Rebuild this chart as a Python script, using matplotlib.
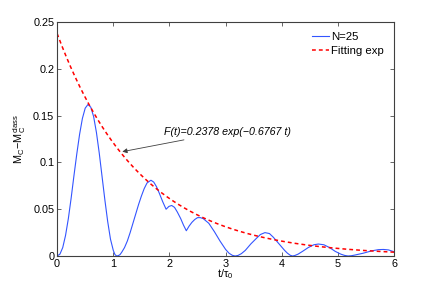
import numpy as np
import matplotlib
matplotlib.use('Agg')
import matplotlib.pyplot as plt

plt.rcParams['font.family'] = ['Liberation Sans', 'DejaVu Sans']
plt.rcParams['mathtext.fontset'] = 'custom'
plt.rcParams['mathtext.rm'] = 'Liberation Sans'
plt.rcParams['mathtext.it'] = 'Liberation Sans:italic'

# N=25 curve
t_data = [0.0, 0.05, 0.1, 0.15, 0.2, 0.25, 0.3, 0.35, 0.4, 0.45, 0.5, 0.55,
          0.6, 0.65, 0.7, 0.75, 0.8, 0.85, 0.9, 0.95, 1.0, 1.03, 1.06,
          1.09, 1.12, 1.15, 1.2, 1.25, 1.3, 1.35, 1.4, 1.45, 1.5, 1.55, 1.6,
          1.67, 1.72, 1.77, 1.82, 1.88, 1.94, 1.99, 2.04, 2.09, 2.14, 2.2,
          2.25, 2.30, 2.35, 2.4, 2.45, 2.5, 2.55, 2.6, 2.7, 2.8, 2.9, 3.0,
          3.06, 3.12, 3.17, 3.22, 3.28, 3.35, 3.45, 3.55, 3.62, 3.7, 3.78,
          3.85, 3.95, 4.05, 4.1, 4.15, 4.19, 4.23, 4.29, 4.37, 4.47, 4.57,
          4.65, 4.75, 4.85, 4.95, 5.05, 5.12, 5.18, 5.24, 5.3, 5.45, 5.6,
          5.72, 5.81, 5.9, 6.0]
m_data = [0.0, 0.002, 0.009, 0.022, 0.040, 0.062, 0.086, 0.109, 0.130, 0.147,
          0.158, 0.162, 0.159, 0.149, 0.132, 0.110, 0.085, 0.060, 0.037,
          0.018, 0.006, 0.0015, 0.0,
          0.0004, 0.0015, 0.004, 0.009, 0.016, 0.025, 0.035, 0.045, 0.055,
          0.064, 0.072, 0.078, 0.081, 0.079, 0.074, 0.067, 0.058, 0.050,
          0.053, 0.054, 0.052, 0.047, 0.040, 0.033, 0.027, 0.032, 0.036,
          0.039, 0.041, 0.041, 0.040, 0.035, 0.026, 0.016, 0.007, 0.003,
          0.0007, 0.0, 0.0006, 0.0025, 0.006, 0.013, 0.019, 0.023, 0.025,
          0.024, 0.020, 0.013, 0.006, 0.003, 0.0008, 0.0, 0.0005, 0.002,
          0.005, 0.009, 0.012, 0.0128, 0.012, 0.009, 0.005, 0.002, 0.0006,
          0.0, 0.0003, 0.001, 0.003, 0.0055, 0.0068, 0.007, 0.0065, 0.0045]

# fitted exponential F(t) = A exp(-k t), parameters as printed in the chart
fit_A = 0.2378
fit_k = 0.6767

t_fit = np.linspace(0, 6, 300)
f_fit = fit_A * np.exp(-fit_k * t_fit)

fig = plt.figure(figsize=(4.36, 2.87), dpi=100)
ax = fig.add_axes([0.131, 0.108, 0.773, 0.815])

ax.plot(t_data, m_data, '-', color='#3355ff', linewidth=0.8, label='N=25')
ax.plot(t_fit, f_fit, '--', color='red', linewidth=1.1, dashes=(2.5, 2.0),
        label='Fitting exp')

ax.annotate('F(t)=0.2378 exp(\u22120.6767 t)', xy=(1.16, 0.1115),
            xytext=(1.9, 0.133), fontsize=7.7, style='italic', va='center',
            arrowprops=dict(arrowstyle='-|>', color='0.25', lw=0.6,
                            shrinkA=2, shrinkB=0, mutation_scale=7))

ax.set_xlim(0, 6)
ax.set_ylim(0, 0.25)
ax.set_xticks([0, 1, 2, 3, 4, 5, 6])
ax.set_yticks([0, 0.05, 0.1, 0.15, 0.2, 0.25])
ax.set_yticklabels(['0', '0.05', '0.1', '0.15', '0.2', '0.25'])
ax.tick_params(direction='in', top=True, right=True, length=3, width=0.6,
               labelsize=7.8, pad=2, color='0.3')
for s in ax.spines.values():
    s.set_color('0.25')
    s.set_linewidth(0.8)

ax.set_xlabel('t/\u03c4$_0$', fontsize=7.8, labelpad=-1)
ax.set_ylabel(r'$\mathrm{M_C\!-\!M_C^{class}}$', fontsize=7.8, labelpad=4)

ax.legend(loc='upper right', frameon=False, fontsize=8.2, handlelength=1.5,
          handletextpad=0.2, borderaxespad=0.5, labelspacing=0.35)

fig.savefig('out.png', dpi=100)
